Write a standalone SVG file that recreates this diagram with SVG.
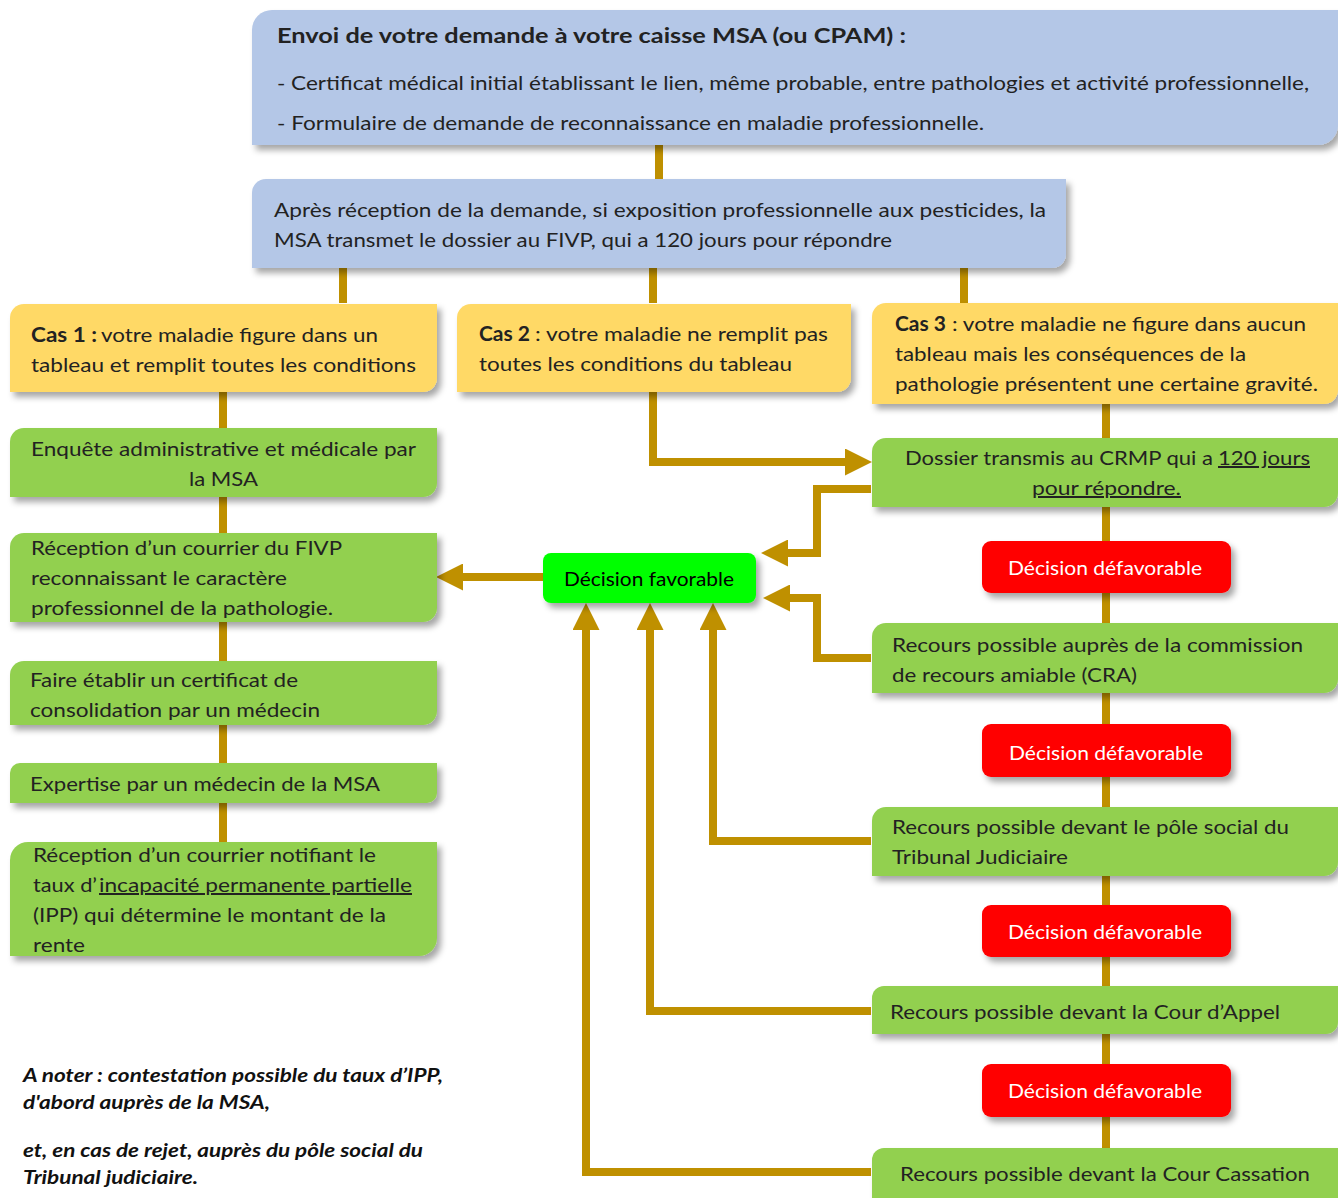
<svg xmlns="http://www.w3.org/2000/svg" width="1338" height="1198" viewBox="0 0 1338 1198">
<defs>
<filter id="sh" x="-5%" y="-10%" width="115%" height="140%">
<feDropShadow dx="4" dy="5" stdDeviation="3" flood-color="#000" flood-opacity="0.35"/>
</filter>
<marker id="ah" markerUnits="userSpaceOnUse" markerWidth="27" markerHeight="27" viewBox="0 0 26 26" refX="0" refY="13" orient="auto">
<path d="M0,0 L26,13 L0,26 Z" fill="#bf9000"/>
</marker>
<style>
.blue{fill:#b4c7e7;filter:url(#sh)}
.yel{fill:#ffd966;filter:url(#sh)}
.grn{fill:#92d050;filter:url(#sh)}
.red{fill:#ff0000;filter:url(#sh)}
.fav{fill:#00ff00;filter:url(#sh)}
.t{font-family:Lato,"Liberation Sans",sans-serif;font-size:20px;fill:#222}
.b{font-weight:bold}
.w{fill:#ffffff}
.u{text-decoration:underline}
.n{font-family:Lato,"Liberation Sans",sans-serif;font-size:18px;font-weight:bold;font-style:italic;fill:#111}
.c{fill:none;stroke:#bf9000;stroke-width:8}
</style>
</defs>
<rect width="1338" height="1198" fill="#ffffff"/>
<g id="connectors">
<path class="c" d="M659,145 V179"/>
<path class="c" d="M343,268 V303"/>
<path class="c" d="M653,268 V303"/>
<path class="c" d="M964,268 V303"/>
<path class="c" d="M223,392 V842"/>
<path class="c" d="M1106,404 V1150"/>
<path class="c" d="M653,392 V462 H845" marker-end="url(#ah)"/>
<path class="c" d="M871,489 H817 V553 H788" marker-end="url(#ah)"/>
<path class="c" d="M871,658 H817 V598 H790" marker-end="url(#ah)"/>
<path class="c" d="M543,577 H463" marker-end="url(#ah)"/>
<path class="c" d="M871,841 H713 V630" marker-end="url(#ah)"/>
<path class="c" d="M871,1011 H650 V630" marker-end="url(#ah)"/>
<path class="c" d="M871,1172 H586 V630" marker-end="url(#ah)"/>
</g>
<g id="envoi">
<path class="blue" d="M272,10 H1338 V125 A20,20 0 0 1 1318,145 H252 V30 A20,20 0 0 1 272,10 Z"/>
<text class="t b" x="277" y="43" font-size="21" textLength="629" lengthAdjust="spacingAndGlyphs">Envoi de votre demande à votre caisse MSA (ou CPAM) :</text>
<text class="t" x="277" y="90" textLength="1032" lengthAdjust="spacingAndGlyphs">- Certificat médical initial établissant le lien, même probable, entre pathologies et activité professionnelle,</text>
<text class="t" x="277" y="130" textLength="707" lengthAdjust="spacingAndGlyphs">- Formulaire de demande de reconnaissance en maladie professionnelle.</text>
</g>
<g id="reception">
<path class="blue" d="M266,179 H1066 V254 A14,14 0 0 1 1052,268 H252 V193 A14,14 0 0 1 266,179 Z"/>
<text class="t" x="274" y="217" textLength="772" lengthAdjust="spacingAndGlyphs">Après réception de la demande, si exposition professionnelle aux pesticides, la</text>
<text class="t" x="274" y="247" textLength="618" lengthAdjust="spacingAndGlyphs">MSA transmet le dossier au FIVP, qui a 120 jours pour répondre</text>
</g>
<g id="cas1">
<path class="yel" d="M24,304 H437 V378 A14,14 0 0 1 423,392 H10 V318 A14,14 0 0 1 24,304 Z"/>
<text class="t b" x="31" y="342" textLength="66" lengthAdjust="spacingAndGlyphs">Cas 1 :</text>
<text class="t" x="101" y="342" textLength="277" lengthAdjust="spacingAndGlyphs">votre maladie figure dans un</text>
<text class="t" x="31" y="372" textLength="385" lengthAdjust="spacingAndGlyphs">tableau et remplit toutes les conditions</text>
</g>
<g id="cas2">
<path class="yel" d="M471,304 H851 V378 A14,14 0 0 1 837,392 H457 V318 A14,14 0 0 1 471,304 Z"/>
<text class="t b" x="479" y="341" textLength="51" lengthAdjust="spacingAndGlyphs">Cas 2</text>
<text class="t" x="535" y="341" textLength="293" lengthAdjust="spacingAndGlyphs">: votre maladie ne remplit pas</text>
<text class="t" x="479" y="371" textLength="313" lengthAdjust="spacingAndGlyphs">toutes les conditions du tableau</text>
</g>
<g id="cas3">
<path class="yel" d="M886,303 H1338 V390 A14,14 0 0 1 1324,404 H872 V317 A14,14 0 0 1 886,303 Z"/>
<text class="t b" x="895" y="331" textLength="51" lengthAdjust="spacingAndGlyphs">Cas 3</text>
<text class="t" x="952" y="331" textLength="354" lengthAdjust="spacingAndGlyphs">: votre maladie ne figure dans aucun</text>
<text class="t" x="895" y="361" textLength="351" lengthAdjust="spacingAndGlyphs">tableau mais les conséquences de la</text>
<text class="t" x="895" y="391" textLength="423" lengthAdjust="spacingAndGlyphs">pathologie présentent une certaine gravité.</text>
</g>
<g id="enquete">
<path class="grn" d="M24,428 H437 V483 A14,14 0 0 1 423,497 H10 V442 A14,14 0 0 1 24,428 Z"/>
<text class="t" x="31" y="456" textLength="385" lengthAdjust="spacingAndGlyphs">Enquête administrative et médicale par</text>
<text class="t" x="189" y="486" textLength="69" lengthAdjust="spacingAndGlyphs">la MSA</text>
</g>
<g id="reception-fivp">
<path class="grn" d="M24,533 H437 V608 A14,14 0 0 1 423,622 H10 V547 A14,14 0 0 1 24,533 Z"/>
<text class="t" x="31" y="555" textLength="311" lengthAdjust="spacingAndGlyphs">Réception d’un courrier du FIVP</text>
<text class="t" x="31" y="585" textLength="256" lengthAdjust="spacingAndGlyphs">reconnaissant le caractère</text>
<text class="t" x="31" y="615" textLength="302" lengthAdjust="spacingAndGlyphs">professionnel de la pathologie.</text>
</g>
<g id="certificat">
<path class="grn" d="M24,661 H437 V711 A14,14 0 0 1 423,725 H10 V675 A14,14 0 0 1 24,661 Z"/>
<text class="t" x="30" y="687" textLength="268" lengthAdjust="spacingAndGlyphs">Faire établir un certificat de</text>
<text class="t" x="30" y="717" textLength="290" lengthAdjust="spacingAndGlyphs">consolidation par un médecin</text>
</g>
<g id="expertise">
<path class="grn" d="M20,763 H437 V793 A10,10 0 0 1 427,803 H10 V773 A10,10 0 0 1 20,763 Z"/>
<text class="t" x="30" y="791" textLength="350" lengthAdjust="spacingAndGlyphs">Expertise par un médecin de la MSA</text>
</g>
<g id="reception-ipp">
<path class="grn" d="M28,842 H437 V938 A18,18 0 0 1 419,956 H10 V860 A18,18 0 0 1 28,842 Z"/>
<text class="t" x="33" y="862" textLength="343" lengthAdjust="spacingAndGlyphs">Réception d’un courrier notifiant le</text>
<text class="t" x="33" y="892" textLength="64" lengthAdjust="spacingAndGlyphs">taux d’</text>
<text class="t u" x="99" y="892" textLength="313" lengthAdjust="spacingAndGlyphs">incapacité permanente partielle</text>
<text class="t" x="33" y="922" textLength="353" lengthAdjust="spacingAndGlyphs">(IPP) qui détermine le montant de la</text>
<text class="t" x="33" y="952" textLength="52" lengthAdjust="spacingAndGlyphs">rente</text>
</g>
<g id="decision-favorable">
<rect class="fav" x="543" y="553" width="213" height="50" rx="8"/>
<text class="t" x="564" y="586" fill="#000" style="fill:#000" textLength="170" lengthAdjust="spacingAndGlyphs">Décision favorable</text>
</g>
<g id="dossier-crmp">
<path class="grn" d="M886,438 H1338 V493 A14,14 0 0 1 1324,507 H872 V452 A14,14 0 0 1 886,438 Z"/>
<text class="t" x="905" y="465" textLength="308" lengthAdjust="spacingAndGlyphs">Dossier transmis au CRMP qui a</text>
<text class="t u" x="1218" y="465" textLength="92" lengthAdjust="spacingAndGlyphs">120 jours</text>
<text class="t u" x="1032" y="495" textLength="149" lengthAdjust="spacingAndGlyphs">pour répondre.</text>
</g>
<g id="defavorable-1">
<rect class="red" x="982" y="541" width="249" height="52" rx="9"/>
<text class="t w" x="1008" y="575" textLength="194" lengthAdjust="spacingAndGlyphs">Décision défavorable</text>
</g>
<g id="recours-cra">
<path class="grn" d="M886,623 H1338 V679 A14,14 0 0 1 1324,693 H872 V637 A14,14 0 0 1 886,623 Z"/>
<text class="t" x="892" y="652" textLength="411" lengthAdjust="spacingAndGlyphs">Recours possible auprès de la commission</text>
<text class="t" x="892" y="682" textLength="245" lengthAdjust="spacingAndGlyphs">de recours amiable (CRA)</text>
</g>
<g id="defavorable-2">
<rect class="red" x="982" y="724" width="249" height="53" rx="9"/>
<text class="t w" x="1009" y="760" textLength="194" lengthAdjust="spacingAndGlyphs">Décision défavorable</text>
</g>
<g id="recours-tribunal">
<path class="grn" d="M886,807 H1338 V862 A14,14 0 0 1 1324,876 H872 V821 A14,14 0 0 1 886,807 Z"/>
<text class="t" x="892" y="834" textLength="397" lengthAdjust="spacingAndGlyphs">Recours possible devant le pôle social du</text>
<text class="t" x="892" y="864" textLength="176" lengthAdjust="spacingAndGlyphs">Tribunal Judiciaire</text>
</g>
<g id="defavorable-3">
<rect class="red" x="982" y="905" width="249" height="52" rx="9"/>
<text class="t w" x="1008" y="939" textLength="194" lengthAdjust="spacingAndGlyphs">Décision défavorable</text>
</g>
<g id="recours-appel">
<path class="grn" d="M884,986 H1338 V1022 A12,12 0 0 1 1326,1034 H872 V998 A12,12 0 0 1 884,986 Z"/>
<text class="t" x="890" y="1019" textLength="390" lengthAdjust="spacingAndGlyphs">Recours possible devant la Cour d’Appel</text>
</g>
<g id="defavorable-4">
<rect class="red" x="982" y="1064" width="249" height="53" rx="9"/>
<text class="t w" x="1008" y="1098" textLength="194" lengthAdjust="spacingAndGlyphs">Décision défavorable</text>
</g>
<g id="recours-cassation">
<path class="grn" d="M884,1148 H1338 V1210 H872 V1160 A12,12 0 0 1 884,1148 Z"/>
<text class="t" x="900" y="1181" textLength="410" lengthAdjust="spacingAndGlyphs">Recours possible devant la Cour Cassation</text>
</g>
<g id="note">
<text class="n" x="23" y="1082" textLength="420" lengthAdjust="spacingAndGlyphs">A noter : contestation possible du taux d’IPP,</text>
<text class="n" x="23" y="1109" textLength="247" lengthAdjust="spacingAndGlyphs">d'abord auprès de la MSA,</text>
<text class="n" x="23" y="1157" textLength="400" lengthAdjust="spacingAndGlyphs">et, en cas de rejet, auprès du pôle social du</text>
<text class="n" x="23" y="1184" textLength="175" lengthAdjust="spacingAndGlyphs">Tribunal judiciaire.</text>
</g>
</svg>
